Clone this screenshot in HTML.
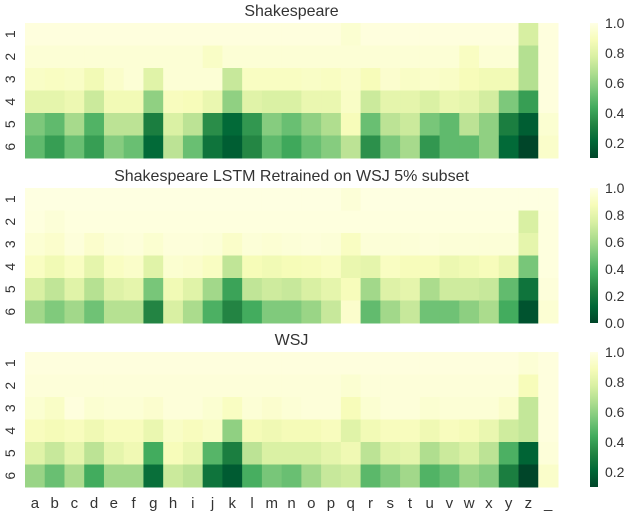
<!DOCTYPE html>
<html><head><meta charset="utf-8"><style>
html,body{margin:0;padding:0;background:#fff;}
svg text{font-family:"Liberation Sans",sans-serif;fill:#333;}
</style></head><body>
<svg id="chart" width="640" height="512" viewBox="0 0 640 512" xmlns="http://www.w3.org/2000/svg">
<defs id="defs"></defs>
</svg>
<script>
const categories = ["a","b","c","d","e","f","g","h","i","j","k","l","m","n","o","p","q","r","s","t","u","v","w","x","y","z","_"];
const rowLabels = ["1","2","3","4","5","6"];
const titles = ["Shakespeare","Shakespeare LSTM Retrained on WSJ 5% subset","WSJ"];
const vmins = [0.1, 0.0, 0.1];
const cbTicks1 = [0.2,0.4,0.6,0.8,1.0];
const cbTicks2 = [0.0,0.2,0.4,0.6,0.8,1.0];
const cbTicks3 = [0.2,0.4,0.6,0.8,1.0];
const shakespeare = [
[.98,.98,.98,.98,.98,.98,.98,.98,.98,.98,.98,.98,.98,.98,.98,.98,.95,.98,.98,.98,.98,.98,.98,.98,.98,.77,.98],
[.96,.96,.96,.96,.96,.96,.96,.96,.96,.92,.96,.96,.96,.96,.96,.96,.96,.96,.96,.96,.96,.96,.91,.96,.96,.68,.98],
[.92,.91,.92,.87,.93,.96,.8,.96,.96,.96,.73,.91,.91,.91,.92,.91,.93,.89,.94,.92,.93,.92,.89,.87,.87,.68,.98],
[.82,.82,.85,.74,.87,.87,.6,.9,.89,.84,.6,.8,.78,.78,.84,.84,.92,.74,.82,.82,.78,.84,.82,.76,.56,.4,.98],
[.56,.5,.65,.47,.7,.7,.3,.78,.7,.35,.22,.38,.58,.52,.6,.67,.89,.52,.7,.74,.55,.5,.7,.6,.3,.18,.95],
[.5,.4,.52,.4,.58,.52,.22,.7,.52,.26,.18,.33,.5,.43,.52,.58,.7,.36,.56,.65,.38,.5,.5,.6,.22,.1,.93]];
const retrained = [
[.99,.99,.99,.99,.99,.99,.99,.99,.99,.99,.99,.99,.99,.99,.99,.99,.96,.99,.99,.99,.99,.99,.99,.99,.99,.99,.99],
[.98,.96,.98,.98,.98,.98,.98,.98,.98,.98,.98,.98,.98,.98,.98,.98,.98,.98,.98,.98,.98,.98,.98,.98,.98,.75,.98],
[.95,.93,.97,.93,.96,.97,.94,.97,.97,.96,.92,.96,.95,.96,.97,.96,.9,.96,.96,.96,.97,.96,.96,.96,.96,.8,.98],
[.9,.85,.9,.8,.9,.92,.78,.94,.93,.9,.68,.87,.85,.87,.88,.9,.82,.8,.9,.88,.88,.83,.85,.88,.82,.5,.98],
[.75,.68,.78,.65,.77,.8,.5,.85,.78,.6,.35,.68,.72,.7,.75,.8,.88,.6,.77,.8,.62,.72,.72,.7,.45,.18,.97],
[.6,.52,.6,.48,.65,.65,.25,.75,.62,.4,.25,.38,.52,.52,.58,.7,.93,.45,.6,.7,.48,.48,.55,.62,.38,.05,.95]];
const wsj = [
[.98,.98,.98,.98,.98,.98,.98,.98,.98,.98,.98,.98,.98,.98,.98,.98,.98,.98,.98,.98,.98,.98,.98,.98,.98,.96,.98],
[.97,.97,.97,.97,.97,.97,.97,.97,.97,.97,.97,.97,.97,.97,.97,.97,.95,.97,.97,.97,.97,.97,.97,.97,.97,.89,.98],
[.95,.92,.98,.95,.96,.96,.94,.97,.97,.95,.91,.96,.94,.96,.97,.97,.89,.95,.97,.97,.95,.96,.96,.96,.93,.72,.98],
[.9,.88,.9,.86,.9,.9,.84,.92,.9,.92,.6,.88,.86,.88,.88,.9,.8,.87,.9,.9,.86,.9,.88,.84,.75,.72,.98],
[.8,.73,.82,.7,.82,.86,.44,.89,.84,.48,.3,.7,.78,.78,.78,.82,.86,.7,.8,.82,.67,.74,.78,.7,.46,.2,.97],
[.62,.52,.66,.44,.64,.64,.24,.74,.7,.26,.17,.45,.55,.52,.64,.73,.75,.49,.57,.64,.47,.52,.62,.58,.3,.1,.93]];
const panelData = [shakespeare, retrained, wsj];
const panelTicks = [cbTicks1, cbTicks2, cbTicks3];

const NS = "http://www.w3.org/2000/svg";
const svg = document.getElementById("chart");
const defs = document.getElementById("defs");
const stops = ["#004529","#006837","#238443","#41ab5d","#78c679","#addd8e","#d9f0a3","#f7fcb9","#ffffe5"];
function hex(c){return [1,3,5].map(i=>parseInt(c.substr(i,2),16));}
function color(t){
  t=Math.max(0,Math.min(1,t));
  const p=t*(stops.length-1), i=Math.min(stops.length-2,Math.floor(p)), f=p-i;
  const a=hex(stops[i]), b=hex(stops[i+1]);
  return "rgb("+a.map((v,k)=>Math.round(v+(b[k]-v)*f)).join(",")+")";
}
const X0=25, X1=558, CBX=590, CBW=8;
const panelTops=[23,188,352], PH=135;
function el(tag, attrs, parent){const e=document.createElementNS(NS,tag);for(const k in attrs)e.setAttribute(k,attrs[k]);(parent||svg).appendChild(e);return e;}
const cw=(X1-X0)/categories.length;
function xPos(i){return X0+i*cw;}
panelData.forEach((data,p)=>{
  const top=panelTops[p], rh=PH/rowLabels.length, vmin=vmins[p];
  const g=el("g",{});
  
  
  const t=el("text",{x:(X0+X1)/2,y:top-7,"text-anchor":"middle","font-size":"16"},g);
  t.textContent=titles[p];
  
  
  data.forEach((row,r)=>{
    row.forEach((v,c)=>{
      const rc=el("rect",{x:xPos(c),y:top+r*rh,width:cw+0.5,height:rh+0.5,fill:color((v-vmin)/(1-vmin))},g);
      
      
    });
    const cy=top+(r+0.5)*rh;
    const lt=el("text",{x:10,y:cy,"text-anchor":"middle","font-size":"14",transform:"rotate(-90 10 "+cy+")","dominant-baseline":"central"},g);
    lt.textContent=rowLabels[r];
    
    
  });
  const gid="cbg"+p;
  const lg=el("linearGradient",{id:gid,x1:0,y1:1,x2:0,y2:0},defs);
  stops.forEach((s,i)=>el("stop",{offset:i/(stops.length-1),"stop-color":s},lg));
  const cb=el("rect",{x:CBX,y:top,width:CBW,height:PH,fill:"url(#"+gid+")"},g);
  
  
  panelTicks[p].forEach(tv=>{
    const ty=top+PH-(tv-vmin)/(1-vmin)*PH;
    const tt=el("text",{x:605,y:ty+5,"font-size":"14"},g);
    tt.textContent=tv.toFixed(1);
    
    
  });
});
categories.forEach((c,i)=>{
  const t=el("text",{x:xPos(i)+cw/2,y:508,"text-anchor":"middle","font-size":"15"});
  t.textContent=c;
  
  
});
</script>
</body></html>
